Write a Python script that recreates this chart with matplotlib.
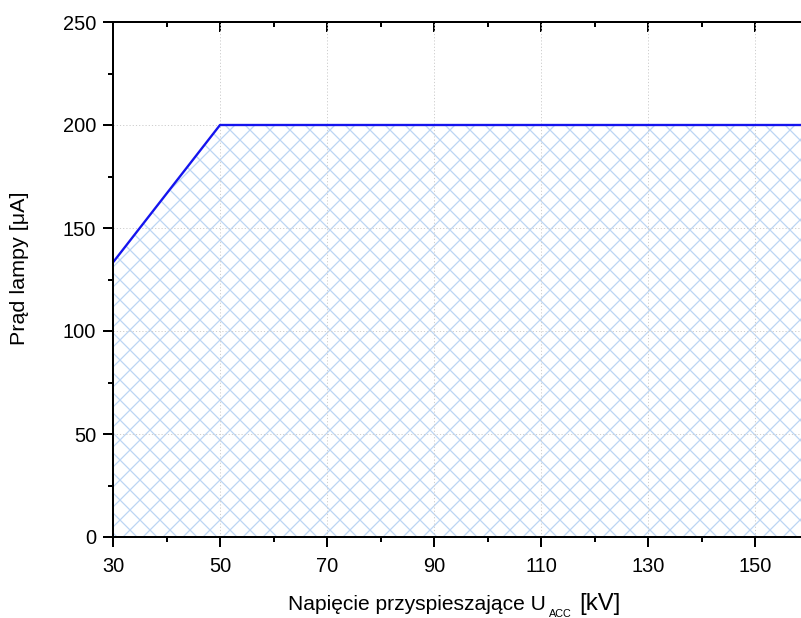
import matplotlib
matplotlib.use("Agg")
import matplotlib.pyplot as plt
from matplotlib.ticker import MultipleLocator

plt.rcParams['font.family'] = ['Liberation Sans', 'DejaVu Sans']
plt.rcParams['hatch.linewidth'] = 0.75
plt.rcParams['hatch.color'] = '#bcd5f3'

voltage_kv = [30, 50, 160]
current_ua = [133.3, 200, 200]
x_ticks = [30, 50, 70, 90, 110, 130, 150]
y_ticks = [0, 50, 100, 150, 200, 250]

DPI = 120
W, H = 801, 618
fig = plt.figure(figsize=(W / DPI, H / DPI), dpi=DPI)
x0, x1 = 30, 160
px_per_unit = (755 - 113) / 120
left_px = 113
right_px = left_px + (x1 - x0) * px_per_unit
top_px, bottom_px = 22, 537
ax = fig.add_axes([left_px / W, 1 - bottom_px / H, (right_px - left_px) / W, (bottom_px - top_px) / H])

ax.fill_between(voltage_kv, 0, current_ua, facecolor='white', edgecolor='#bcd5f3',
                hatch='xx', linewidth=0, zorder=1)
ax.plot(voltage_kv, current_ua, color='#1414ee', linewidth=1.4, zorder=4)

ax.set_xlim(x0, x1)
ax.set_ylim(0, 250)
ax.set_xticks(x_ticks)
ax.set_yticks(y_ticks)
ax.xaxis.set_minor_locator(MultipleLocator(10))
ax.yaxis.set_minor_locator(MultipleLocator(25))

ax.grid(True, which='major', color='#cfcfcf', linestyle=(0, (1.2, 2.0)), linewidth=0.6)
for gl in ax.get_xgridlines() + ax.get_ygridlines():
    gl.set_zorder(2)

for s in ['left', 'bottom', 'top']:
    ax.spines[s].set_linewidth(1.2)
    ax.spines[s].set_zorder(6)
ax.spines['right'].set_visible(False)

ax.tick_params(axis='both', which='major', length=6, width=1.2, labelsize=12, direction='out')
ax.tick_params(axis='both', which='minor', length=3, width=1.2, direction='out')
ax.tick_params(axis='x', which='major', pad=6)
ax.tick_params(axis='y', which='major', pad=4)
ax.tick_params(axis='x', which='both', top=False)
ax.tick_params(axis='y', which='both', right=False)

secax = ax.secondary_xaxis('top')
secax.set_xticks(x_ticks)
secax.xaxis.set_minor_locator(MultipleLocator(10))
secax.tick_params(which='major', direction='in', length=6, width=1.2, labeltop=False)
secax.tick_params(which='minor', direction='in', length=3, width=1.2)
secax.set_xticklabels([])
secax.spines['top'].set_linewidth(1.2)

# y label
fig.text(20 / W, 1 - 268 / H, 'Prąd lampy [μA]', fontsize=12.9, rotation=90,
         ha='center', va='center')

# x label built from pieces
fig.canvas.draw()
renderer = fig.canvas.get_renderer()
base_y = 1 - 610 / H
t1 = fig.text(288 / W, base_y, 'Napięcie przyspieszające U', fontsize=12.6,
              ha='left', va='baseline')
e1 = t1.get_window_extent(renderer)
t2 = fig.text((e1.x1 + 3) / W, 1 - 617 / H, 'ACC', fontsize=6.5, ha='left', va='baseline')
e2 = t2.get_window_extent(renderer)
t3 = fig.text((e2.x1 + 8) / W, base_y, '[kV]', fontsize=14.4, ha='left', va='baseline')

fig.savefig('out.png', dpi=DPI)
